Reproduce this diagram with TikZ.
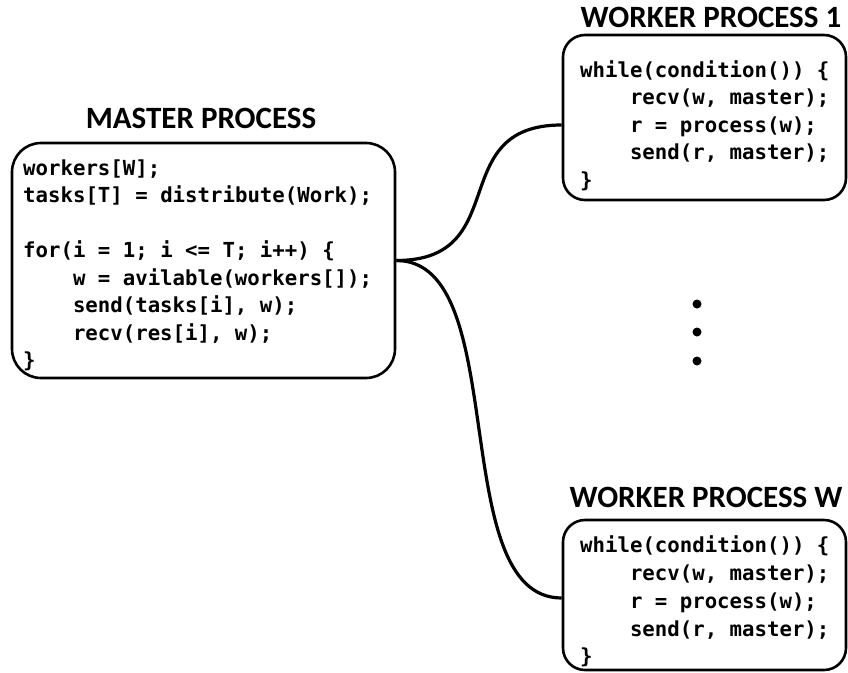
\documentclass[tikz,border=0pt]{standalone}
\usepackage{fontspec}
\newfontfamily\codefont{DejaVu Sans Mono}
\newfontfamily\titlefont{Carlito}
\usetikzlibrary{calc}
\begin{document}
\begin{tikzpicture}[x=1pt,y=-1pt,
  procbox/.style={draw, line width=2.6pt, inner sep=0pt},
  code/.style={font=\codefont\bfseries\fontsize{20.7}{28}\selectfont, anchor=base west, inner sep=0pt},
  ttl/.style={font=\titlefont\bfseries\fontsize{31}{36}\selectfont, anchor=base, inner sep=0pt},
  link/.style={line width=3.2pt},
  dot/.style={circle, fill, inner sep=0pt, minimum size=9pt}]
\useasboundingbox (0,0) rectangle (848,672);
% boxes
\node[procbox, minimum width=383pt, minimum height=235pt, rounded corners=29pt] (m) at (203.5,260.5) {};
\node[procbox, minimum width=283pt, minimum height=165pt, rounded corners=22pt] (w1) at (704.5,117.5) {};
\node[procbox, minimum width=283pt, minimum height=150pt, rounded corners=22pt] (ww) at (704.5,595) {};
% titles
\node[ttl] (tm) at (201,128) {MASTER PROCESS};
\node[ttl] (t1) at (711,27) {WORKER PROCESS 1};
\node[ttl] (tw) at (706,507) {WORKER PROCESS W};
% master code
\node[code] (m1) at (23,175) {workers[W];};
\node[code] (m2) at (23,202.5) {tasks[T] = distribute(Work);};
\node[code] (m3) at (23,257.5) {for(i = 1; i <= T; i++) \{};
\node[code] (m4) at (72.8,285) {w = avilable(workers[]);};
\node[code] (m5) at (72.8,312.5) {send(tasks[i], w);};
\node[code] (m6) at (72.8,340) {recv(res[i], w);};
\node[code] (m7) at (23,367.5) {\}};
% worker 1 code
\node[code] (a1) at (580,77) {while(condition()) \{};
\node[code] (a2) at (629.8,104.5) {recv(w, master);};
\node[code] (a3) at (629.8,132) {r = process(w);};
\node[code] (a4) at (629.8,159.5) {send(r, master);};
\node[code] (a5) at (580,187) {\}};
% worker W code
\node[code] (b1) at (580,552) {while(condition()) \{};
\node[code] (b2) at (629.8,580) {recv(w, master);};
\node[code] (b3) at (629.8,608) {r = process(w);};
\node[code] (b4) at (629.8,636) {send(r, master);};
\node[code] (b5) at (580,663) {\}};
% dots
\node[dot] (d1) at (697,304) {};
\node[dot] (d2) at (697,332) {};
\node[dot] (d3) at (697,361) {};
% connectors
\coordinate (e1) at ($(w1.west)+(0,7.5)$);
\coordinate (ew) at ($(ww.west)+(0,3)$);
\draw[link] (m.east) .. controls +(118,0) and +(-118,0) .. (e1);
\draw[link] (m.east) .. controls +(117,0) and +(-117,0) .. (ew);
\end{tikzpicture}
\end{document}
